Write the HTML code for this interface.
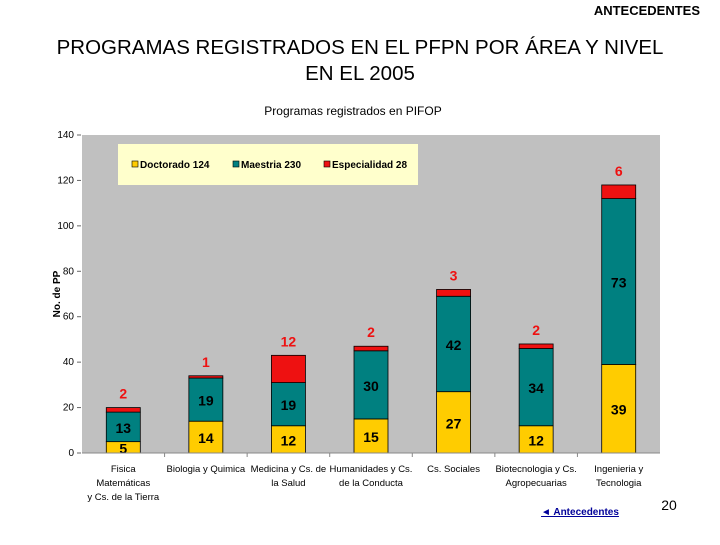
<!DOCTYPE html>
<html><head><meta charset="utf-8"><style>
body{margin:0;width:720px;height:540px;background:#fff;overflow:hidden;font-family:"Liberation Sans",Arial,sans-serif}
</style></head><body>
<svg width="720" height="540" xmlns="http://www.w3.org/2000/svg" font-family="Liberation Sans, Arial, sans-serif">
<text x="700" y="15" text-anchor="end" font-size="13" font-weight="bold">ANTECEDENTES</text>
<text x="360" y="54" text-anchor="middle" font-size="20.5">PROGRAMAS REGISTRADOS EN EL PFPN POR ÁREA Y NIVEL</text>
<text x="360" y="80" text-anchor="middle" font-size="20.5">EN EL 2005</text>
<text x="353" y="115" text-anchor="middle" font-size="12">Programas registrados en PIFOP</text>
<rect x="82" y="135" width="578" height="318" fill="#c0c0c0"/>
<g id="yaxis"></g>
<g id="bars"></g>
<g id="xaxis"></g>
<text transform="translate(60,294) rotate(-90)" text-anchor="middle" font-size="10" font-weight="bold">No. de PP</text>
<g>
<rect x="118" y="144" width="300" height="41" fill="#ffffcc"/>
<rect x="132" y="161" width="6" height="6" fill="#ffcc00" stroke="#000" stroke-width="0.6"/>
<text x="140" y="168" font-size="10" font-weight="bold">Doctorado 124</text>
<rect x="233" y="161" width="6" height="6" fill="#008080" stroke="#000" stroke-width="0.6"/>
<text x="241" y="168" font-size="10" font-weight="bold">Maestria 230</text>
<rect x="324" y="161" width="6" height="6" fill="#ee1111" stroke="#000" stroke-width="0.6"/>
<text x="332" y="168" font-size="10" font-weight="bold">Especialidad 28</text>
</g>
<text x="580" y="515" text-anchor="middle" font-size="10" font-weight="bold" fill="#000099" text-decoration="underline">◄ Antecedentes</text>
<text x="669" y="510" text-anchor="middle" font-size="14">20</text>
</svg>
<script>
const categories=[["Fisica","Matemáticas","y Cs. de la Tierra"],["Biologia y Quimica"],["Medicina y Cs. de","la Salud"],["Humanidades y Cs.","de la Conducta"],["Cs. Sociales"],["Biotecnologia y Cs.","Agropecuarias"],["Ingenieria y","Tecnologia"]];
const doctorado=[5,14,12,15,27,12,39];
const maestria=[13,19,19,30,42,34,73];
const especialidad=[2,1,12,2,3,2,6];
const yTicks=[0,20,40,60,80,100,120,140];
const NS="http://www.w3.org/2000/svg";
const X0=82,W=578,Y0=453,H=318,YMAX=140;
const y=v=>Y0-v/YMAX*H;
const band=W/categories.length;
const xc=i=>X0+band*(i+0.5);
function mk(t,a,p){const e=document.createElementNS(NS,t);for(const k in a)e.setAttribute(k,a[k]);p.appendChild(e);return e;}
const ya=document.getElementById('yaxis'),ba=document.getElementById('bars'),xa=document.getElementById('xaxis');
mk('line',{x1:X0,y1:Y0,x2:X0+W,y2:Y0,stroke:'#888'},xa);
yTicks.forEach(v=>{
 const t=mk('text',{x:74,y:y(v)+3,'text-anchor':'end','font-size':10},ya);t.textContent=v;
 
 
 mk('line',{x1:77,y1:y(v),x2:81,y2:y(v),stroke:'#666'},ya);
});
const series=[[doctorado,'#ffcc00','#000','doctorado'],[maestria,'#008080','#000','maestria'],[especialidad,'#ee1111','#ee1111','especialidad']];
categories.forEach((c,i)=>{
 let base=0;const bw=34,bx=xc(i)-bw/2;
 series.forEach(([arr,col,lc,nm],s)=>{
  const v=arr[i];
  const r=mk('rect',{x:bx,y:y(base+v),width:bw,height:y(base)-y(base+v),fill:col,stroke:'#000','stroke-width':0.8},ba);
  
  
  const ly=s<2?(y(base)+y(base+v))/2+6:y(base+v)-9;
  const t=mk('text',{x:xc(i),y:ly,'text-anchor':'middle','font-size':14,'font-weight':'bold',fill:lc},ba);
  t.textContent=v;
  
  
  base+=v;
 });
 if(i>0)mk('line',{x1:X0+band*i,y1:Y0,x2:X0+band*i,y2:Y0+4,stroke:'#888'},xa);
 c.forEach((ln,j)=>{
  const t=mk('text',{x:xc(i),y:472+j*14,'text-anchor':'middle','font-size':9.5},xa);
  t.textContent=ln;
  
  
 });
});
</script>
</body></html>
